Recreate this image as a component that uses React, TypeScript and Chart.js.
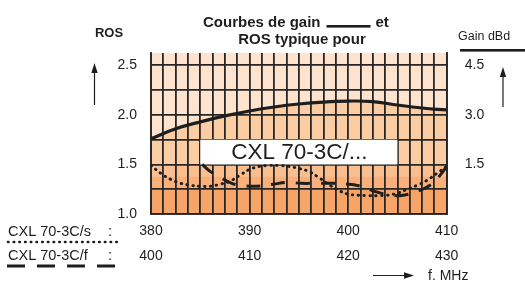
import React, { useEffect, useRef } from 'react';
import { Chart, registerables } from 'chart.js';

Chart.register(...registerables);

// ---- data ----
// CXL 70-3C/s : ROS vs frequency (380-410 MHz scale), dotted
const sFreq = [380, 381, 382, 383, 384, 385, 386, 387, 388, 389, 390, 391, 392, 393, 394, 395, 396, 397, 398, 399, 400, 401, 402, 403, 404, 405, 406, 407, 408, 409, 410];
const sRos = [1.49, 1.41, 1.35, 1.31, 1.29, 1.28, 1.28, 1.3, 1.33, 1.39, 1.45, 1.48, 1.49, 1.49, 1.48, 1.46, 1.43, 1.37, 1.3, 1.24, 1.2, 1.19, 1.185, 1.185, 1.19, 1.21, 1.25, 1.29, 1.34, 1.41, 1.48];

// CXL 70-3C/f : ROS vs frequency (400-430 MHz scale), dashed
const fFreq = [405.2, 406, 406.7, 408.2, 409.4, 410.8, 412.4, 413.8, 415.2, 416.9, 418.2, 419.5, 421.3, 422.6, 424.3, 425.6, 427.1, 428.6, 429.4, 430];
const fRos = [1.5, 1.43, 1.39, 1.31, 1.285, 1.28, 1.3, 1.32, 1.31, 1.31, 1.31, 1.305, 1.28, 1.23, 1.19, 1.19, 1.23, 1.31, 1.4, 1.48];

// Gain curve (dBd, right axis)
const gainFreq = [380, 382.5, 385, 387.5, 390, 392.5, 395, 397.5, 400, 402.5, 405, 407.5, 410];
const gainDbd = [2.28, 2.58, 2.79, 2.97, 3.12, 3.24, 3.33, 3.39, 3.42, 3.405, 3.3, 3.21, 3.15];

// Axis ranges and tick labels
const xRangeS = [380, 410];
const xRangeF = [400, 430];
const xTickLabelsS = ['380', '390', '400', '410'];
const xTickLabelsF = ['400', '410', '420', '430'];
const rosRange = [1.0, 2.625];
const rosTickLabels = ['1.0', '1.5', '2.0', '2.5'];
const gainRange = [0, 4.875];
const gainTickValues = [1.5, 3.0, 4.5];
const gridStepX = 1.25;
const gridStepY = 0.125;

// Background shading levels (ROS) and the label box (in data units)
const shadeLevels = [1.25, 1.375, 1.5];
const shadeColors = ['#f7a468', '#f9b07b', '#fbbe8f'];
const boxX = [385, 405];
const boxY = [1.5, 1.75];
const boxText = 'CXL 70-3C/...';

const FONT = '"Liberation Sans", Arial, Helvetica, sans-serif';
const INK = '#1e1e1e';
const GRID = '#262626';

function arrow(ctx: CanvasRenderingContext2D, x1: number, y1: number, x2: number, y2: number) {
  const ang = Math.atan2(y2 - y1, x2 - x1);
  const hl = 10, hw = 3.2;
  ctx.save();
  ctx.strokeStyle = INK;
  ctx.fillStyle = INK;
  ctx.lineWidth = 1.2;
  ctx.beginPath();
  ctx.moveTo(x1, y1);
  ctx.lineTo(x2 - Math.cos(ang) * hl * 0.8, y2 - Math.sin(ang) * hl * 0.8);
  ctx.stroke();
  ctx.beginPath();
  ctx.moveTo(x2, y2);
  ctx.lineTo(x2 - Math.cos(ang) * hl - Math.sin(ang) * hw, y2 - Math.sin(ang) * hl + Math.cos(ang) * hw);
  ctx.lineTo(x2 - Math.cos(ang) * hl + Math.sin(ang) * hw, y2 - Math.sin(ang) * hl - Math.cos(ang) * hw);
  ctx.closePath();
  ctx.fill();
  ctx.restore();
}

const decorPlugin = {
  id: 'decor',
  beforeDatasetsDraw(chart: any) {
    const { ctx, scales } = chart;
    const x = scales.x, y = scales.y;
    const l = x.getPixelForValue(boxX[0]);
    const r = x.getPixelForValue(boxX[1]);
    const t = y.getPixelForValue(boxY[1]);
    const b = y.getPixelForValue(boxY[0]);
    ctx.save();
    ctx.fillStyle = '#ffffff';
    ctx.fillRect(l, t, r - l, b - t);
    ctx.fillStyle = INK;
    ctx.font = `22.5px ${FONT}`;
    ctx.textBaseline = 'middle';
    ctx.textAlign = 'left';
    ctx.fillText(boxText, l + 31, (t + b) / 2 + 1);
    ctx.restore();
  },
  afterDraw(chart: any) {
    const { ctx } = chart;
    ctx.save();
    ctx.fillStyle = INK;
    ctx.textBaseline = 'alphabetic';
    // Title
    ctx.font = `bold 15px ${FONT}`;
    ctx.textAlign = 'left';
    ctx.fillText('Courbes de gain', 203, 26.5);
    const w1 = ctx.measureText('Courbes de gain').width;
    ctx.fillRect(203 + w1 + 6, 25, 44, 2.6);
    ctx.fillText('et', 203 + w1 + 55, 26.5);
    ctx.textAlign = 'center';
    ctx.fillText('ROS typique pour', 302, 44);
    // ROS label
    ctx.font = `bold 13px ${FONT}`;
    ctx.fillText('ROS', 109, 36.5);
    // Gain dBd
    ctx.font = `12.5px ${FONT}`;
    ctx.textAlign = 'left';
    ctx.fillText('Gain dBd', 458, 39.5);
    ctx.fillRect(460, 49, 65, 2.6);
    // legend rows
    ctx.font = `14.5px ${FONT}`;
    ctx.textBaseline = 'middle';
    ctx.fillText('CXL 70-3C/s', 8, 231.5);
    ctx.fillText(':', 108, 231.5);
    ctx.fillText('CXL 70-3C/f', 8, 255.5);
    ctx.fillText(':', 108, 255.5);
    // f. MHz
    ctx.font = `14px ${FONT}`;
    ctx.fillText('f. MHz', 428, 276.5);
    // legend lines
    ctx.strokeStyle = INK;
    ctx.lineCap = 'round';
    ctx.lineWidth = 2.6;
    ctx.setLineDash([0.5, 5.2]);
    ctx.beginPath();
    ctx.moveTo(8, 242);
    ctx.lineTo(117, 242);
    ctx.stroke();
    ctx.lineCap = 'butt';
    ctx.lineWidth = 2.8;
    ctx.setLineDash([18, 12]);
    ctx.beginPath();
    ctx.moveTo(7, 266);
    ctx.lineTo(117, 266);
    ctx.stroke();
    ctx.setLineDash([]);
    ctx.restore();
    // arrows
    arrow(ctx, 94.5, 105, 94.5, 63);
    arrow(ctx, 503, 107, 503, 67);
    arrow(ctx, 373, 275.5, 414, 275.5);
  },
};

export default function App() {
  const ref = useRef<HTMLCanvasElement | null>(null);
  useEffect(() => {
    if (!ref.current) return;
    Chart.defaults.font.family = FONT;
    const pts = (xs: number[], ys: number[]) => xs.map((x, i) => ({ x, y: ys[i] }));
    const flat = (v: number) => [{ x: xRangeS[0], y: v }, { x: xRangeS[1], y: v }];
    const shadeSets = shadeLevels.map((lv, i) => ({
      data: flat(lv),
      xAxisID: 'x',
      yAxisID: 'y',
      borderWidth: 0,
      borderColor: 'rgba(0,0,0,0)',
      pointRadius: 0,
      fill: 'origin',
      backgroundColor: shadeColors[i],
    }));
    const chart = new Chart(ref.current, {
      type: 'line',
      data: {
        datasets: [
          {
            data: pts(sFreq, sRos),
            xAxisID: 'x',
            yAxisID: 'y',
            borderColor: INK,
            borderWidth: 2.9,
            borderDash: [0.5, 5.4],
            borderCapStyle: 'round',
            pointRadius: 0,
            tension: 0.4,
            fill: false,
          },
          {
            data: pts(fFreq, fRos),
            xAxisID: 'x2',
            yAxisID: 'y',
            borderColor: INK,
            borderWidth: 3,
            borderDash: [14, 11],
            pointRadius: 0,
            tension: 0.4,
            fill: false,
          },
          ...shadeSets,
          {
            data: pts(gainFreq, gainDbd),
            xAxisID: 'x',
            yAxisID: 'y2',
            borderColor: INK,
            borderWidth: 3.2,
            pointRadius: 0,
            tension: 0.4,
            fill: 'origin',
            backgroundColor: '#fccca2',
          },
          {
            data: flat(rosRange[1]),
            xAxisID: 'x',
            yAxisID: 'y',
            borderWidth: 0,
            borderColor: 'rgba(0,0,0,0)',
            pointRadius: 0,
            fill: 'origin',
            backgroundColor: '#fee4cf',
          },
        ] as any,
      },
      options: {
        responsive: false,
        animation: false,
        events: [],
        layout: { padding: { top: 53, left: 0, right: 0, bottom: 0 } },
        plugins: {
          legend: { display: false },
          tooltip: { enabled: false },
          filler: { drawTime: 'beforeDraw' },
        } as any,
        scales: {
          x: {
            type: 'linear',
            position: 'bottom',
            min: xRangeS[0],
            max: xRangeS[1],
            afterBuildTicks: (s: any) => {
              const t = [];
              for (let v = xRangeS[0]; v <= xRangeS[1] + 1e-9; v += gridStepX) t.push({ value: v });
              s.ticks = t;
            },
            afterFit: (s: any) => { s.height = 68; },
            ticks: {
              autoSkip: false,
              maxRotation: 0,
              padding: 4.5,
              color: INK,
              font: { size: 14, lineHeight: '25px' } as any,
              callback: (v: any) => {
                const d = Number(v) - xRangeS[0];
                if (Math.abs(d % 10) > 1e-6) return '';
                const k = Math.round(d / 10);
                return [xTickLabelsS[k], xTickLabelsF[k]];
              },
            },
            grid: { color: GRID, lineWidth: 1.8, drawTicks: false },
            border: { color: GRID, width: 1.8 },
          },
          x2: {
            type: 'linear',
            display: false,
            min: xRangeF[0],
            max: xRangeF[1],
          },
          y: {
            type: 'linear',
            position: 'left',
            min: rosRange[0],
            max: rosRange[1],
            afterBuildTicks: (s: any) => {
              const t = [];
              for (let v = rosRange[0]; v <= rosRange[1] + 1e-9; v += gridStepY) t.push({ value: v });
              s.ticks = t;
            },
            afterFit: (s: any) => { s.width = 151; },
            ticks: {
              padding: 14,
              color: INK,
              font: { size: 14 },
              callback: (v: any) => {
                const d = Number(v) - rosRange[0];
                if (Math.abs(d % 0.5) > 1e-6) return '';
                return rosTickLabels[Math.round(d / 0.5)];
              },
            },
            grid: { color: GRID, lineWidth: 1.8, drawTicks: false },
            border: { color: GRID, width: 1.8 },
          },
          y2: {
            type: 'linear',
            position: 'right',
            min: gainRange[0],
            max: gainRange[1],
            afterBuildTicks: (s: any) => { s.ticks = gainTickValues.map((v) => ({ value: v })); },
            afterFit: (s: any) => { s.width = 78.3; },
            ticks: {
              padding: 18,
              color: INK,
              font: { size: 14 },
              callback: (v: any) => Number(v).toFixed(1),
            },
            grid: { display: false, drawTicks: false },
            border: { color: GRID, width: 1.8 },
          },
        } as any,
      },
      plugins: [decorPlugin],
    });
    return () => chart.destroy();
  }, []);
  return (
    <div style={{ position: 'fixed', left: 0, top: 0, width: 525, height: 282, background: '#fff' }}>
      <canvas ref={ref} width={525} height={282} style={{ display: 'block', width: 525, height: 282 }} />
    </div>
  );
}
